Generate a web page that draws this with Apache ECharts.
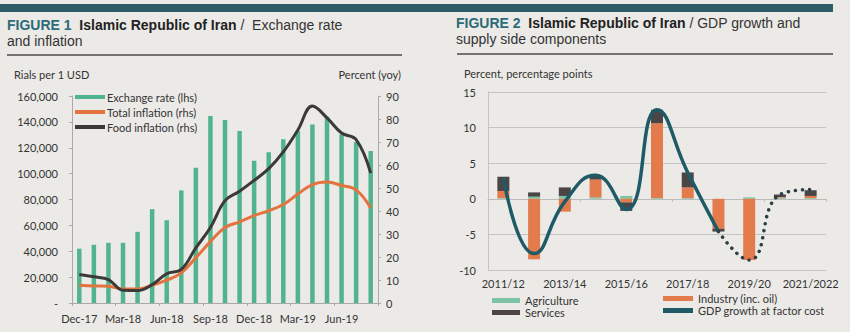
<!DOCTYPE html>
<html>
<head>
<meta charset="utf-8">
<script src="https://cdn.jsdelivr.net/npm/echarts@6/dist/echarts.min.js"></script>
<style>
html,body{margin:0;padding:0;background:#ebeae7;}
#c{width:850px;height:332px;}
</style>
</head>
<body>
<div id="c"></div>
<script>
// ---------- Figure 1 data ----------
const months = ['Dec-17','Jan-18','Feb-18','Mar-18','Apr-18','May-18','Jun-18','Jul-18','Aug-18','Sep-18','Oct-18','Nov-18','Dec-18','Jan-19','Feb-19','Mar-19','Apr-19','May-19','Jun-19','Jul-19','Aug-19'];
const exchangeRate = [42000,45000,46500,46500,55000,72500,64000,87000,104500,144500,141500,133000,110000,116500,126500,133000,138000,144000,130500,124500,117500];
const totalInflation = [7.7,7.4,7.3,6.1,6.1,7.7,9.9,13.1,19.7,26.7,32.8,35.3,38.0,40.1,42.8,47.4,51.5,52.6,51.1,49.2,41.3];
const foodInflation = [12.4,11.4,10.2,5.5,5.4,8.0,12.7,14.6,24.0,32.8,44.5,48.6,53.3,58.4,65.7,75.2,85.6,80.5,73.9,71.0,56.5];
const rialTicks = [0,20000,40000,60000,80000,100000,120000,140000,160000];
const pctTicks = [0,10,20,30,40,50,60,70,80,90];

// ---------- Figure 2 data ----------
const years = ['2011/12','2012/13','2013/14','2014/15','2015/16','2016/17','2017/18','2018/19','2019/20','2020/21','2021/2022'];
const agriculture = [0.1,0.3,0.4,0.2,0.4,0.1,0.1,0.0,0.2,0.15,0.1];
const industry = [1.0,-8.5,-1.8,2.5,-0.5,10.5,1.5,-4.2,-8.6,0.1,0.3];
const services = [2.0,0.6,1.2,0.6,-1.2,1.9,2.1,-0.4,0.0,0.35,0.8];
const gdpActual = [3.0,-7.7,-0.4,3.3,-1.5,12.5,3.7,-4.6,null,null,null];
const gdpForecast = [null,null,null,null,null,null,null,-4.6,-8.6,0.6,1.3];
const gdpTicks = [-10,-5,0,5,10,15];

const FONT = 'Lato';
const TFONT = 'Liberation Sans';
const txt = '#333';

const titleRich = {
  f: {color:'#2c6b78', fontWeight:'bold', fontFamily:TFONT, fontSize:14, lineHeight:16},
  b: {color:'#222', fontWeight:'bold', fontFamily:TFONT, fontSize:14, lineHeight:16},
  r: {color:'#333', fontWeight:'normal', fontFamily:TFONT, fontSize:14, lineHeight:16}
};
function titleLine(left, top, text) {
  return {left:left, top:top, padding:0, text:text,
    textStyle:{fontWeight:'normal', fontFamily:TFONT, fontSize:14, color:'#333', lineHeight:16, rich:titleRich}};
}

const chart = echarts.init(document.getElementById('c'), null, {renderer:'svg'});
const option = {
  backgroundColor: '#ebeae7',
  animation: false,
  textStyle: {fontFamily: FONT},
  title: [
    titleLine(7, 17, '{f|FIGURE 1}  {b|Islamic Republic of Iran} {r|/  Exchange rate}'),
    titleLine(7, 33, 'and inflation'),
    titleLine(456, 15, '{f|FIGURE 2}  {b|Islamic Republic of Iran} {r|/ GDP growth and}'),
    titleLine(456, 31, 'supply side components')
  ],
  graphic: [
    {type:'rect', shape:{x:0,y:4,width:833,height:8}, style:{fill:'#2d5e67'}, silent:true},
    {type:'line', shape:{x1:7,y1:55,x2:402,y2:55}, style:{stroke:'#4a4a4a', lineWidth:1.5}},
    {type:'line', shape:{x1:457,y1:54,x2:833,y2:54}, style:{stroke:'#4a4a4a', lineWidth:1.5}},
    {type:'text', left:14, top:69, style:{text:'Rials per 1 USD', fill:txt, font:'11px Lato'}},
    {type:'text', right:449, top:69, style:{text:'Percent (yoy)', fill:txt, font:'11px Lato', textAlign:'right'}},
    {type:'text', left:464, top:68, style:{text:'Percent, percentage points', fill:txt, font:'11px Lato'}}
  ],
  legend: [
    {
      orient:'vertical', left:75, top:91, itemWidth:30, itemHeight:4, itemGap:3, padding:0,
      data:[
        {name:'Exchange rate (lhs)', icon:'rect'},
        {name:'Total inflation (rhs)', icon:'rect'},
        {name:'Food inflation (rhs)', icon:'rect'}
      ],
      textStyle:{color:txt, fontSize:11, fontFamily:FONT, lineHeight:12, padding:[0,0,0,-3]}
    },
    {
      orient:'vertical', left:492, top:295, itemWidth:28, itemHeight:5, itemGap:1, padding:0,
      data:[{name:'Agriculture', icon:'rect'},{name:'Services', icon:'rect'}],
      textStyle:{color:txt, fontSize:11, fontFamily:FONT, lineHeight:11}
    },
    {
      orient:'vertical', left:663, top:293, itemWidth:30, itemHeight:5, itemGap:1, padding:0,
      data:[{name:'Industry (inc. oil)', icon:'rect'},{name:'GDP growth at factor cost', icon:'rect'}],
      textStyle:{color:txt, fontSize:11, fontFamily:FONT, lineHeight:11}
    }
  ],
  grid: [
    {left:72, right:472, top:96, bottom:29},
    {left:488, right:24, top:92, bottom:62}
  ],
  xAxis: [
    {
      type:'category', gridIndex:0, data:months, boundaryGap:true,
      axisLine:{lineStyle:{color:'#aaa'}},
      axisTick:{show:true, interval:2, length:3, lineStyle:{color:'#aaa'}},
      axisLabel:{interval:2, color:txt, fontSize:11, margin:10}
    },
    {
      type:'category', gridIndex:1, data:years, boundaryGap:true, position:'bottom',
      axisLine:{show:false, onZero:false},
      axisTick:{show:false},
      axisLabel:{interval:1, color:txt, fontSize:11, margin:8}
    },
    {
      type:'category', gridIndex:1, data:years, boundaryGap:true, position:'bottom',
      axisLine:{show:true, onZero:true, lineStyle:{color:'#bbb'}},
      axisTick:{show:true, length:3, lineStyle:{color:'#bbb'}},
      axisLabel:{show:false}
    }
  ],
  yAxis: [
    {
      type:'value', gridIndex:0, min:rialTicks[0], max:rialTicks[rialTicks.length-1], interval:20000,
      axisLine:{show:true, lineStyle:{color:'#aaa'}},
      axisTick:{show:true, length:3, lineStyle:{color:'#aaa'}},
      splitLine:{show:false},
      axisLabel:{color:txt, fontSize:11, margin:14, formatter:v => v === 0 ? '-' : v.toLocaleString('en-US')}
    },
    {
      type:'value', gridIndex:0, position:'right', min:pctTicks[0], max:pctTicks[pctTicks.length-1], interval:10,
      axisLine:{show:true, lineStyle:{color:'#aaa'}},
      axisTick:{show:true, length:3, lineStyle:{color:'#aaa'}},
      splitLine:{show:false},
      axisLabel:{color:txt, fontSize:11, margin:8}
    },
    {
      type:'value', gridIndex:1, min:gdpTicks[0], max:gdpTicks[gdpTicks.length-1], interval:5,
      axisLine:{show:true, lineStyle:{color:'#c4c4c4'}},
      axisTick:{show:false},
      splitLine:{show:true, lineStyle:{color:'#c4c4c4'}},
      axisLabel:{color:txt, fontSize:11, margin:12}
    }
  ],
  series: [
    {
      name:'Exchange rate (lhs)', type:'bar', xAxisIndex:0, yAxisIndex:0, data:exchangeRate,
      barWidth:4.5, itemStyle:{color:'#52b48e'}
    },
    {
      name:'Total inflation (rhs)', type:'line', xAxisIndex:0, yAxisIndex:1, data:totalInflation,
      smooth:0.4, symbol:'none', lineStyle:{color:'#e3743f', width:3}, itemStyle:{color:'#e3743f'}
    },
    {
      name:'Food inflation (rhs)', type:'line', xAxisIndex:0, yAxisIndex:1, data:foodInflation,
      smooth:0.4, symbol:'none', lineStyle:{color:'#3b3a38', width:3}, itemStyle:{color:'#3b3a38'}
    },
    {
      name:'Agriculture', type:'bar', xAxisIndex:1, yAxisIndex:2, stack:'g', data:agriculture,
      barWidth:12, itemStyle:{color:'#7cc4a5'}
    },
    {
      name:'Industry (inc. oil)', type:'bar', xAxisIndex:1, yAxisIndex:2, stack:'g', data:industry,
      barWidth:12, itemStyle:{color:'#e47b4c'}
    },
    {
      name:'Services', type:'bar', xAxisIndex:1, yAxisIndex:2, stack:'g', data:services,
      barWidth:12, itemStyle:{color:'#4b4545'}
    },
    {
      name:'GDP growth at factor cost', type:'line', xAxisIndex:1, yAxisIndex:2, data:gdpActual,
      smooth:0.5, symbol:'none', connectNulls:false,
      lineStyle:{color:'#1f5a67', width:3.5}, itemStyle:{color:'#1f5a67'}
    },
    {
      name:'GDP forecast', type:'line', xAxisIndex:1, yAxisIndex:2, data:gdpForecast,
      smooth:0.5, symbol:'none',
      lineStyle:{color:'#2a3f44', width:3.5, type:[0.1,7], cap:'round'}, itemStyle:{color:'#2a3f44'}
    }
  ]
};
chart.setOption(option);
</script>
</body>
</html>
